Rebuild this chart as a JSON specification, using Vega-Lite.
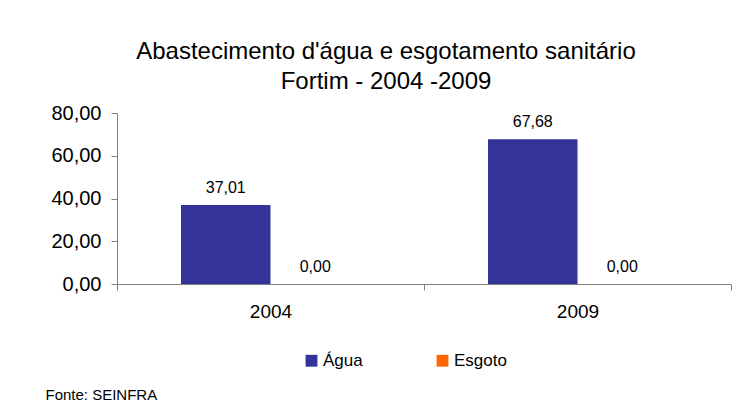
{
  "$schema": "https://vega.github.io/schema/vega-lite/v6.json",
  "width": 614,
  "height": 171,
  "autosize": {"type": "none"},
  "padding": {"left": 117, "top": 113, "right": 18, "bottom": 135},
  "background": "white",
  "title": {
    "text": ["Abastecimento d'água e esgotamento sanitário", "Fortim - 2004 -2009"],
    "font": "Liberation Sans",
    "fontSize": 24,
    "fontWeight": "normal",
    "color": "black",
    "anchor": "middle",
    "frame": "group",
    "dx": -38,
    "lineHeight": 30,
    "offset": 9
  },
  "data": {
    "values": [
      {"year": "2004", "serie": "Água", "value": 37.01},
      {"year": "2004", "serie": "Esgoto", "value": 0},
      {"year": "2009", "serie": "Água", "value": 67.68},
      {"year": "2009", "serie": "Esgoto", "value": 0}
    ]
  },
  "encoding": {
    "x": {
      "field": "year",
      "type": "nominal",
      "scale": {"paddingInner": 0, "paddingOuter": 0},
      "axis": {
        "tickBand": "extent",
        "labelAngle": 0,
        "labelFont": "Liberation Sans",
        "labelFontSize": 19,
        "labelColor": "black",
        "labelPadding": 12,
        "tickSize": 6,
        "tickColor": "#808080",
        "domainColor": "#808080",
        "title": "Fonte: SEINFRA",
        "titleFont": "Liberation Sans",
        "titleFontSize": 15,
        "titleFontWeight": "normal",
        "titleColor": "black",
        "titleAlign": "left",
        "titleBaseline": "alphabetic",
        "titleX": -72,
        "titleY": 115
      }
    },
    "xOffset": {
      "field": "serie",
      "type": "nominal",
      "sort": ["Água", "Esgoto"],
      "scale": {"paddingOuter": 0.715, "paddingInner": 0}
    },
    "y": {
      "field": "value",
      "type": "quantitative",
      "scale": {"domain": [0, 80], "nice": false},
      "axis": {
        "values": [0, 20, 40, 60, 80],
        "format": ".2f",
        "grid": false,
        "title": null,
        "labelFont": "Liberation Sans",
        "labelFontSize": 20,
        "labelColor": "black",
        "labelPadding": 10,
        "tickSize": 6,
        "tickColor": "#808080",
        "domainColor": "#808080"
      }
    }
  },
  "layer": [
    {
      "mark": {"type": "bar"},
      "encoding": {
        "color": {
          "field": "serie",
          "type": "nominal",
          "sort": ["Água", "Esgoto"],
          "scale": {"domain": ["Água", "Esgoto"], "range": ["#333399", "#FF6600"]},
          "legend": {
            "title": null,
            "orient": "none",
            "direction": "horizontal",
            "legendX": 186,
            "legendY": 239,
            "symbolType": "square",
            "symbolSize": 140,
            "symbolStrokeWidth": 0,
            "symbolOpacity": 1,
            "labelFont": "Liberation Sans",
            "labelFontSize": 17,
            "labelColor": "black",
            "labelOffset": 3,
            "columnPadding": 71,
            "padding": 0
          }
        }
      }
    },
    {
      "mark": {"type": "text", "baseline": "alphabetic", "dy": -12, "font": "Liberation Sans", "fontSize": 16, "color": "black"},
      "encoding": {
        "text": {"field": "value", "type": "quantitative", "format": ".2f"}
      }
    }
  ],
  "config": {
    "locale": {"number": {"decimal": ",", "thousands": ".", "grouping": [3], "currency": ["R$", ""]}},
    "view": {"stroke": null},
    "axis": {"domainWidth": 1, "tickWidth": 1}
  }
}
